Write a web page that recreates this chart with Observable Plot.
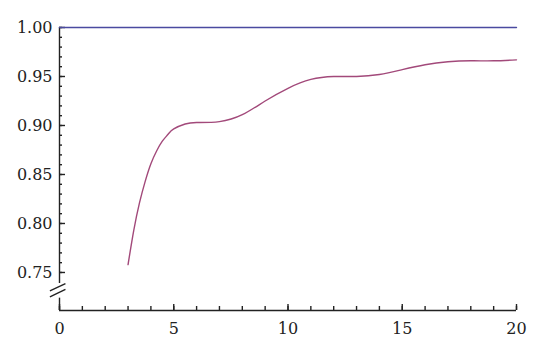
<!DOCTYPE html>
<html>
<head>
<meta charset="utf-8">
<script src="https://cdn.jsdelivr.net/npm/d3@7"></script>
<script src="https://cdn.jsdelivr.net/npm/@observablehq/plot@0.6"></script>
<style>
  html, body { margin: 0; padding: 0; background: #fff; }
  #chart svg { display: block; }
</style>
</head>
<body>
<div id="chart"></div>
<script>
// Curve series
const curveX = [3, 3.25, 3.5, 3.75, 4, 4.25, 4.5, 4.75, 5, 5.5, 6, 7, 8, 9, 10, 11, 12, 13, 14, 15, 16, 17, 18, 19, 20];
const curveY = [0.758, 0.793, 0.821, 0.843, 0.861, 0.874, 0.884, 0.891, 0.8965, 0.9015, 0.903, 0.904, 0.911, 0.925, 0.938, 0.947, 0.950, 0.950, 0.952, 0.957, 0.962, 0.965, 0.966, 0.966, 0.967];
// Reference series (constant 1)
const refX = [0, 20];
const refY = [1, 1];

// Ticks
const xMajor = [0, 5, 10, 15, 20];
const xMinor = [0,1,2,3,4,5,6,7,8,9,10,11,12,13,14,15,16,17,18,19,20];
const yMajor = [0.75, 0.80, 0.85, 0.90, 0.95, 1.00];
const yMinor = [0.75,0.76,0.77,0.78,0.79,0.80,0.81,0.82,0.83,0.84,0.85,0.86,0.87,0.88,0.89,0.90,0.91,0.92,0.93,0.94,0.95,0.96,0.97,0.98,0.99,1.00];

// Axis extent and break
const yMin = 0.7112;
const breakTop = 0.7387;
const breakBottom = 0.7238;
const breakX1 = [-0.42, -0.42];
const breakY1 = [0.7312, 0.7251];
const breakX2 = [0.26, 0.26];
const breakY2 = [0.7387, 0.7327];

const curve = curveX.map((x, i) => ({x, y: curveY[i]}));
const ref = refX.map((x, i) => ({x, y: refY[i]}));
const breaks = breakX1.map((x1, i) => ({x1, y1: breakY1[i], x2: breakX2[i], y2: breakY2[i]}));

const blue = "#4a4aa0";
const red = "#a2497a";
const ink = "#222";

const chart = Plot.plot({
  width: 540,
  height: 352,
  marginLeft: 59,
  marginRight: 24,
  marginTop: 27,
  marginBottom: 42,
  style: {fontFamily: "DejaVu Serif", fontSize: "16px", color: ink, background: "#fff"},
  x: {domain: [0, 20]},
  y: {domain: [yMin, 1]},
  marks: [
    // axis lines
    Plot.ruleY([yMin], {x1: 0, x2: 20, stroke: ink, strokeWidth: 1.4}),
    Plot.ruleX([0], {y1: 1, y2: breakTop, stroke: ink, strokeWidth: 1.4}),
    Plot.ruleX([0], {y1: breakBottom, y2: yMin, stroke: ink, strokeWidth: 1.4}),
    Plot.link(breaks, {x1: "x1", y1: "y1", x2: "x2", y2: "y2", stroke: ink, strokeWidth: 1.4}),
    // x ticks (inward)
    Plot.axisX({ticks: xMinor, tickSize: 4, dy: -4, tickFormat: () => "", stroke: ink, strokeWidth: 1.4}),
    Plot.axisX({ticks: xMajor, tickSize: 6, dy: -6, tickFormat: () => "", stroke: ink, strokeWidth: 1.4}),
    Plot.axisX({ticks: xMajor, tickSize: 0, tickPadding: 12, fontSize: 16, fill: ink, tickFormat: d => String(d)}),
    // y ticks (inward)
    Plot.axisY({ticks: yMinor, tickSize: 3, dx: 3, tickFormat: () => "", stroke: ink, strokeWidth: 1.4}),
    Plot.axisY({ticks: yMajor, tickSize: 6, dx: 6, tickFormat: () => "", stroke: ink, strokeWidth: 1.4}),
    Plot.axisY({ticks: yMajor, tickSize: 0, tickPadding: 7, fontSize: 16, fill: ink, tickFormat: d3.format(".2f"), label: null}),
    // series
    Plot.line(ref, {x: "x", y: "y", stroke: blue, strokeWidth: 1.4}),
    Plot.line(curve, {x: "x", y: "y", stroke: red, strokeWidth: 1.4, curve: "natural"})
  ]
});
document.getElementById("chart").appendChild(chart);
</script>
</body>
</html>
